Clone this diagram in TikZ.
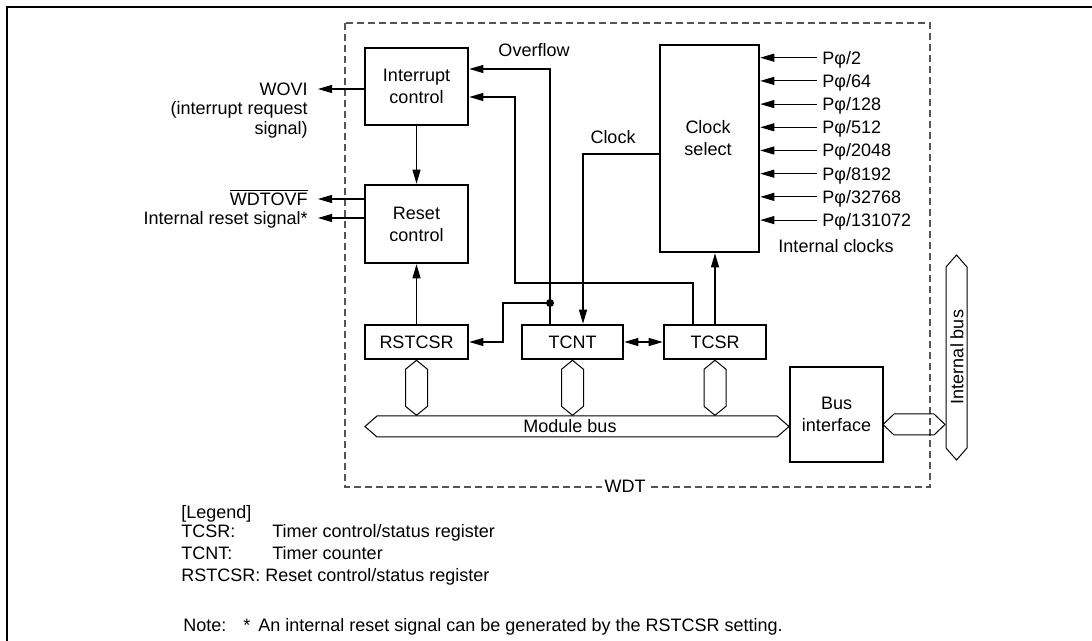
\documentclass[tikz,border=0pt]{standalone}
\usepackage{fontspec}
\setmainfont{Liberation Sans}
\usetikzlibrary{arrows.meta}

\begin{document}
\begin{tikzpicture}[x=0.5pt,y=-0.5pt,font=\fontsize{9}{11}\selectfont,
  blk/.style={draw,line width=1.3pt,align=center,inner sep=0pt},
  sig/.style={line width=0.55pt},
  arr/.style={sig,-{Triangle[length=7pt,width=4pt]}},
  lbl/.style={inner sep=0pt,text height=6.45pt,text depth=0pt},
  bus/.style={line width=0.5pt},
  wdtline/.style={draw=wdtgrey,line width=0.65pt,dash pattern=on 3.5pt off 2pt}]
\definecolor{wdtgrey}{HTML}{555555}
\useasboundingbox (0,0) rectangle (1092,641);
\draw[line width=1pt] (7,641) -- (7,7) -- (1092,7);
% WDT boundary
\draw[wdtline] (345,23) rectangle (930,487);
\node[lbl,fill=white,inner xsep=1.5pt] (wdt) at (625,486) {WDT};
% blocks
\node[blk,minimum width=51.5pt,minimum height=38.5pt] (intctl) at (416.5,86.5) {Interrupt\\control};
\node[blk,minimum width=51.5pt,minimum height=39pt] (rstctl) at (416.5,224) {Reset\\control};
\node[blk,minimum width=49.5pt,minimum height=103.5pt] (clksel) at (709.5,148.5) {};
\node[align=center,inner sep=0pt] (clkseltxt) at (708,138) {Clock\\select};
\node[blk,minimum width=51.5pt,minimum height=17pt] (rstcsr) at (416.5,342) {RSTCSR};
\node[blk,minimum width=50.5pt,minimum height=17pt] (tcnt) at (572.5,342) {TCNT};
\node[blk,minimum width=51pt,minimum height=17pt] (tcsr) at (715,342) {TCSR};
\node[blk,minimum width=46.5pt,minimum height=47.5pt] (busif) at (836.5,414.5) {Bus\\interface};
% outputs
\node[lbl,anchor=east,inner xsep=5pt] (wovi) at (318,89) {WOVI};
\node[lbl,anchor=east] (wovireq) at (308,108) {(interrupt request};
\node[lbl,anchor=east] (wovisig) at (308,128) {signal)};
\node[lbl,anchor=east,inner xsep=5pt] (wdtovf) at (318,199) {$\overline{\hbox{WDTOVF}}$};
\node[lbl,anchor=east,inner xsep=5pt] (intrst) at (318,218) {Internal reset signal*};
\draw[arr] (intctl.west |- wovi.east) -- (wovi.east);
\draw[arr] (intctl.south) -- (rstctl.north);
\draw[arr] (rstctl.west |- wdtovf.east) -- (wdtovf.east);
\draw[arr] (rstctl.west |- intrst.east) -- (intrst.east);
\draw[arr] (rstcsr.north) -- (rstctl.south);
% overflow
\coordinate (ovf) at (550,69);
\coordinate (jn) at (550,303);
\coordinate (jbend) at (503,303);
\node[lbl] (ovflbl) at (534,50) {Overflow};
\draw[arr] (tcnt.north -| ovf) -- (ovf) -- (intctl.east |- ovf);
\fill (jn) circle (2pt);
\draw[arr] (jn) -- (jbend) |- (rstcsr.east);
% clock
\coordinate (clk) at (583,154);
\node[lbl] (clklbl) at (613,137) {Clock};
\draw[arr] (clksel.west |- clk) -- (clk) -- (tcnt.north -| clk);
% TCSR
\coordinate (tsa) at (693,283);
\coordinate (tsb) at (515,97);
\draw[arr] (tcsr.north -| tsa) -- (tsa) -| (tsb) -- (intctl.east |- tsb);
\draw[arr] (tcsr.north) -- (tcsr.north |- clksel.south);
\draw[sig,{Triangle[length=7pt,width=4pt]}-{Triangle[length=7pt,width=4pt]}] (tcnt.east) -- (tcsr.west);
% internal clocks
\foreach \dv [count=\i] in {2,64,128,512,2048,8192,32768,131072}
{
  \node[lbl,anchor=west,inner xsep=2.5pt] (pin\i) at (817,{34.5+23.2*\i}) {Pφ/\dv};
  \draw[arr] (pin\i.west) -- (clksel.east |- pin\i.west);
}
\node[lbl] (intclk) at (836,246) {Internal clocks};
% buses
\foreach \reg in {rstcsr,tcnt,tcsr}
  \draw[bus] (\reg.south) -- ++(11,9) -- ++(0,37) -- ++(-11,9) -- ++(-11,-9) -- ++(0,-37) -- cycle;
\draw[bus] (365,426.5) -- (377,416) -- (777,416) -- (789,426.5) -- (777,437) -- (377,437) -- cycle;
\node[lbl] (modbus) at (570,426) {Module bus};
\draw[bus] (883,424.5) -- (894,414) -- (934,414) -- (945,424.5) -- (934,435) -- (894,435) -- cycle;
\draw[bus] (956.5,255) -- (967,267) -- (967,448) -- (956.5,460) -- (946,448) -- (946,267) -- cycle;
\node[lbl,rotate=90] (intbus) at (957,357) {Internal bus};
% legend
\node[lbl,anchor=west] (lgd) at (181,512) {[Legend]};
\node[lbl,anchor=west] (lgtcsr) at (181,531) {TCSR:};
\node[lbl,anchor=west] (lgtcsrtxt) at (272,531) {Timer control/status register};
\node[lbl,anchor=west] (lgtcnt) at (181,553) {TCNT:};
\node[lbl,anchor=west] (lgtcnttxt) at (272,553) {Timer counter};
\node[lbl,anchor=west] (lgrst) at (181,575) {RSTCSR: Reset control/status register};
\node[lbl,anchor=west] (note) at (183,625) {Note:};
\node[lbl,anchor=west] (notestar) at (243,625) {*};
\node[lbl,anchor=west] (notetxt) at (258,625) {An internal reset signal can be generated by the RSTCSR setting.};
\end{tikzpicture}
\end{document}
